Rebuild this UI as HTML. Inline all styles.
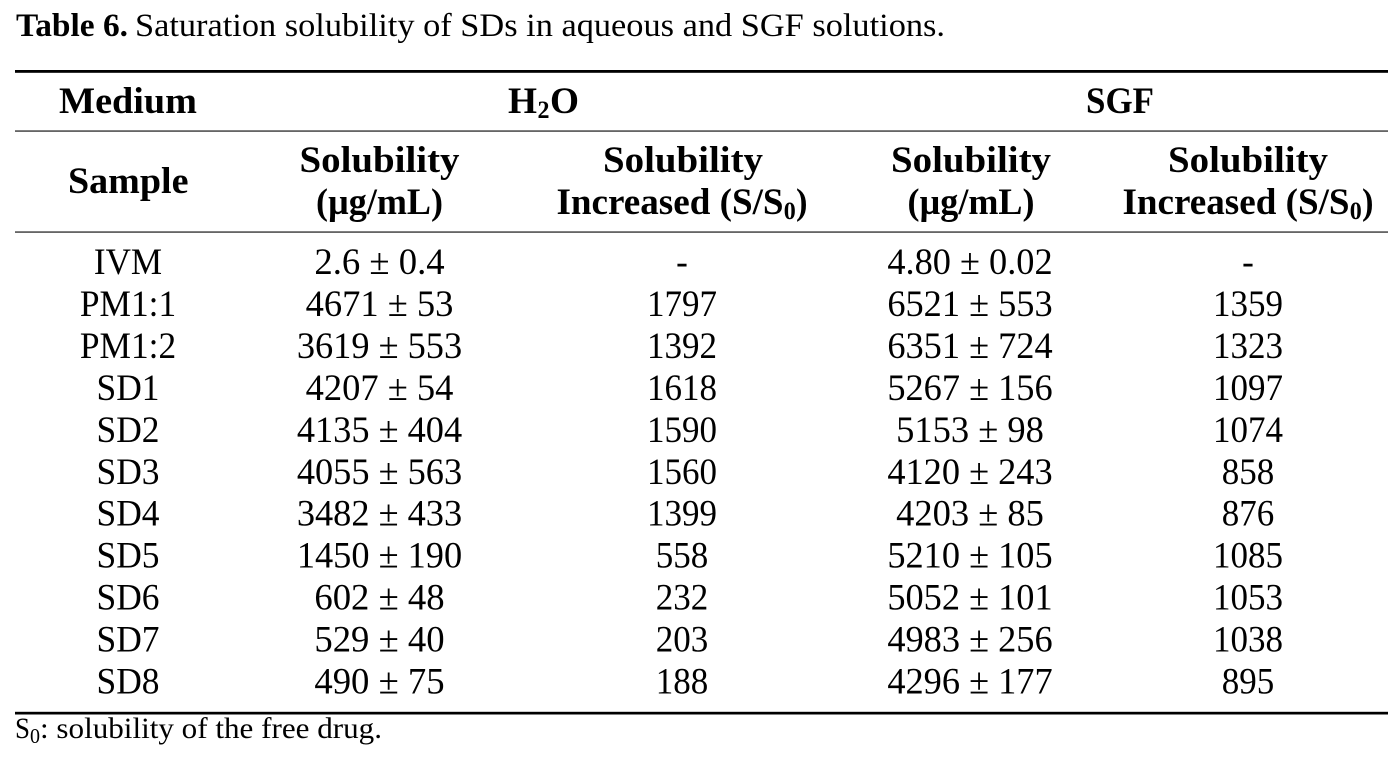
<!DOCTYPE html>
<html>
<head>
<meta charset="utf-8">
<style>
html,body{margin:0;padding:0;background:#fff;}
svg{display:block;}
text{font-family:"Liberation Serif",serif;fill:#000;}
.b{font-weight:bold;}
.h{font-size:36.5px;font-weight:bold;}
.d{font-size:36.5px;}
.sb{font-size:25.5px;font-weight:bold;}
</style>
</head>
<body>
<svg width="1388" height="760" viewBox="0 0 1388 760" xmlns="http://www.w3.org/2000/svg">
<rect x="0" y="0" width="1388" height="760" fill="#fff"/>

<!-- Caption -->
<text x="16" y="36" class="b" font-size="33" textLength="112" lengthAdjust="spacingAndGlyphs">Table 6.</text>
<text x="135" y="36" font-size="33" textLength="810" lengthAdjust="spacingAndGlyphs">Saturation solubility of SDs in aqueous and SGF solutions.</text>

<!-- Rules -->
<rect x="15" y="70" width="1373" height="2.8" fill="#000"/>
<rect x="15" y="130.5" width="1373" height="1.1" fill="#000"/>
<rect x="15" y="231.5" width="1373" height="1.1" fill="#000"/>
<rect x="15" y="711.8" width="1373" height="2.7" fill="#000"/>

<!-- Header row 1 -->
<text x="59" y="113" class="h" textLength="138" lengthAdjust="spacingAndGlyphs">Medium</text>
<text x="508" y="113" class="h" textLength="29" lengthAdjust="spacingAndGlyphs">H</text>
<text x="537.5" y="118" class="sb" textLength="12" lengthAdjust="spacingAndGlyphs">2</text>
<text x="550" y="113" class="h" textLength="29" lengthAdjust="spacingAndGlyphs">O</text>
<text x="1086" y="113" class="h" textLength="68" lengthAdjust="spacingAndGlyphs">SGF</text>

<!-- Header row 2 -->
<text x="68" y="193" class="h" textLength="120.5" lengthAdjust="spacingAndGlyphs">Sample</text>

<text x="299.5" y="172" class="h" textLength="160" lengthAdjust="spacingAndGlyphs">Solubility</text>
<text x="316" y="214" class="h" textLength="127" lengthAdjust="spacingAndGlyphs">(µg/mL)</text>

<text x="603" y="172" class="h" textLength="160" lengthAdjust="spacingAndGlyphs">Solubility</text>
<text x="556.5" y="214" class="h" textLength="227" lengthAdjust="spacingAndGlyphs">Increased (S/S</text>
<text x="783.8" y="219" class="sb" textLength="12" lengthAdjust="spacingAndGlyphs">0</text>
<text x="796" y="214" class="h" textLength="11.5" lengthAdjust="spacingAndGlyphs">)</text>

<text x="891" y="172" class="h" textLength="160" lengthAdjust="spacingAndGlyphs">Solubility</text>
<text x="907.5" y="214" class="h" textLength="127" lengthAdjust="spacingAndGlyphs">(µg/mL)</text>

<text x="1168" y="172" class="h" textLength="160" lengthAdjust="spacingAndGlyphs">Solubility</text>
<text x="1122.5" y="214" class="h" textLength="227" lengthAdjust="spacingAndGlyphs">Increased (S/S</text>
<text x="1349.8" y="219" class="sb" textLength="12" lengthAdjust="spacingAndGlyphs">0</text>
<text x="1362" y="214" class="h" textLength="11.5" lengthAdjust="spacingAndGlyphs">)</text>

<!-- Data rows -->
<!-- IVM -->
<text x="93.9" y="274" class="d" textLength="68.2" lengthAdjust="spacingAndGlyphs">IVM</text>
<text x="314.35" y="274" class="d" textLength="130.3" lengthAdjust="spacingAndGlyphs">2.6 ± 0.4</text>
<text x="676.15" y="274" class="d" textLength="11.7" lengthAdjust="spacingAndGlyphs">-</text>
<text x="887.35" y="274" class="d" textLength="165.3" lengthAdjust="spacingAndGlyphs">4.80 ± 0.02</text>
<text x="1242.15" y="274" class="d" textLength="11.7" lengthAdjust="spacingAndGlyphs">-</text>

<!-- PM1:1 -->
<text x="79.9" y="316" class="d" textLength="96.25" lengthAdjust="spacingAndGlyphs">PM1:1</text>
<text x="305.6" y="316" class="d" textLength="147.8" lengthAdjust="spacingAndGlyphs">4671 ± 53</text>
<text x="647" y="316" class="d" textLength="70" lengthAdjust="spacingAndGlyphs">1797</text>
<text x="887.35" y="316" class="d" textLength="165.3" lengthAdjust="spacingAndGlyphs">6521 ± 553</text>
<text x="1213" y="316" class="d" textLength="70" lengthAdjust="spacingAndGlyphs">1359</text>

<!-- PM1:2 -->
<text x="79.9" y="358" class="d" textLength="96.25" lengthAdjust="spacingAndGlyphs">PM1:2</text>
<text x="296.85" y="358" class="d" textLength="165.3" lengthAdjust="spacingAndGlyphs">3619 ± 553</text>
<text x="647" y="358" class="d" textLength="70" lengthAdjust="spacingAndGlyphs">1392</text>
<text x="887.35" y="358" class="d" textLength="165.3" lengthAdjust="spacingAndGlyphs">6351 ± 724</text>
<text x="1213" y="358" class="d" textLength="70" lengthAdjust="spacingAndGlyphs">1323</text>

<!-- SD1 -->
<text x="96.5" y="400" class="d" textLength="63" lengthAdjust="spacingAndGlyphs">SD1</text>
<text x="305.6" y="400" class="d" textLength="147.8" lengthAdjust="spacingAndGlyphs">4207 ± 54</text>
<text x="647" y="400" class="d" textLength="70" lengthAdjust="spacingAndGlyphs">1618</text>
<text x="887.35" y="400" class="d" textLength="165.3" lengthAdjust="spacingAndGlyphs">5267 ± 156</text>
<text x="1213" y="400" class="d" textLength="70" lengthAdjust="spacingAndGlyphs">1097</text>

<!-- SD2 -->
<text x="96.5" y="442" class="d" textLength="63" lengthAdjust="spacingAndGlyphs">SD2</text>
<text x="296.85" y="442" class="d" textLength="165.3" lengthAdjust="spacingAndGlyphs">4135 ± 404</text>
<text x="647" y="442" class="d" textLength="70" lengthAdjust="spacingAndGlyphs">1590</text>
<text x="896.1" y="442" class="d" textLength="147.8" lengthAdjust="spacingAndGlyphs">5153 ± 98</text>
<text x="1213" y="442" class="d" textLength="70" lengthAdjust="spacingAndGlyphs">1074</text>

<!-- SD3 -->
<text x="96.5" y="484" class="d" textLength="63" lengthAdjust="spacingAndGlyphs">SD3</text>
<text x="296.85" y="484" class="d" textLength="165.3" lengthAdjust="spacingAndGlyphs">4055 ± 563</text>
<text x="647" y="484" class="d" textLength="70" lengthAdjust="spacingAndGlyphs">1560</text>
<text x="887.35" y="484" class="d" textLength="165.3" lengthAdjust="spacingAndGlyphs">4120 ± 243</text>
<text x="1221.75" y="484" class="d" textLength="52.5" lengthAdjust="spacingAndGlyphs">858</text>

<!-- SD4 -->
<text x="96.5" y="525.6" class="d" textLength="63" lengthAdjust="spacingAndGlyphs">SD4</text>
<text x="296.85" y="525.6" class="d" textLength="165.3" lengthAdjust="spacingAndGlyphs">3482 ± 433</text>
<text x="647" y="525.6" class="d" textLength="70" lengthAdjust="spacingAndGlyphs">1399</text>
<text x="896.1" y="525.6" class="d" textLength="147.8" lengthAdjust="spacingAndGlyphs">4203 ± 85</text>
<text x="1221.75" y="525.6" class="d" textLength="52.5" lengthAdjust="spacingAndGlyphs">876</text>

<!-- SD5 -->
<text x="96.5" y="567.5" class="d" textLength="63" lengthAdjust="spacingAndGlyphs">SD5</text>
<text x="296.85" y="567.5" class="d" textLength="165.3" lengthAdjust="spacingAndGlyphs">1450 ± 190</text>
<text x="655.75" y="567.5" class="d" textLength="52.5" lengthAdjust="spacingAndGlyphs">558</text>
<text x="887.35" y="567.5" class="d" textLength="165.3" lengthAdjust="spacingAndGlyphs">5210 ± 105</text>
<text x="1213" y="567.5" class="d" textLength="70" lengthAdjust="spacingAndGlyphs">1085</text>

<!-- SD6 -->
<text x="96.5" y="609.4" class="d" textLength="63" lengthAdjust="spacingAndGlyphs">SD6</text>
<text x="314.35" y="609.4" class="d" textLength="130.3" lengthAdjust="spacingAndGlyphs">602 ± 48</text>
<text x="655.75" y="609.4" class="d" textLength="52.5" lengthAdjust="spacingAndGlyphs">232</text>
<text x="887.35" y="609.4" class="d" textLength="165.3" lengthAdjust="spacingAndGlyphs">5052 ± 101</text>
<text x="1213" y="609.4" class="d" textLength="70" lengthAdjust="spacingAndGlyphs">1053</text>

<!-- SD7 -->
<text x="96.5" y="651.4" class="d" textLength="63" lengthAdjust="spacingAndGlyphs">SD7</text>
<text x="314.35" y="651.4" class="d" textLength="130.3" lengthAdjust="spacingAndGlyphs">529 ± 40</text>
<text x="655.75" y="651.4" class="d" textLength="52.5" lengthAdjust="spacingAndGlyphs">203</text>
<text x="887.35" y="651.4" class="d" textLength="165.3" lengthAdjust="spacingAndGlyphs">4983 ± 256</text>
<text x="1213" y="651.4" class="d" textLength="70" lengthAdjust="spacingAndGlyphs">1038</text>

<!-- SD8 -->
<text x="96.5" y="693.3" class="d" textLength="63" lengthAdjust="spacingAndGlyphs">SD8</text>
<text x="314.35" y="693.3" class="d" textLength="130.3" lengthAdjust="spacingAndGlyphs">490 ± 75</text>
<text x="655.75" y="693.3" class="d" textLength="52.5" lengthAdjust="spacingAndGlyphs">188</text>
<text x="887.35" y="693.3" class="d" textLength="165.3" lengthAdjust="spacingAndGlyphs">4296 ± 177</text>
<text x="1221.75" y="693.3" class="d" textLength="52.5" lengthAdjust="spacingAndGlyphs">895</text>

<!-- Footnote -->
<text x="15" y="738" font-size="30" textLength="15" lengthAdjust="spacingAndGlyphs">S</text>
<text x="30" y="743" font-size="21" textLength="10" lengthAdjust="spacingAndGlyphs">0</text>
<text x="40" y="738" font-size="30" textLength="342" lengthAdjust="spacingAndGlyphs">: solubility of the free drug.</text>
</svg>
</body>
</html>
